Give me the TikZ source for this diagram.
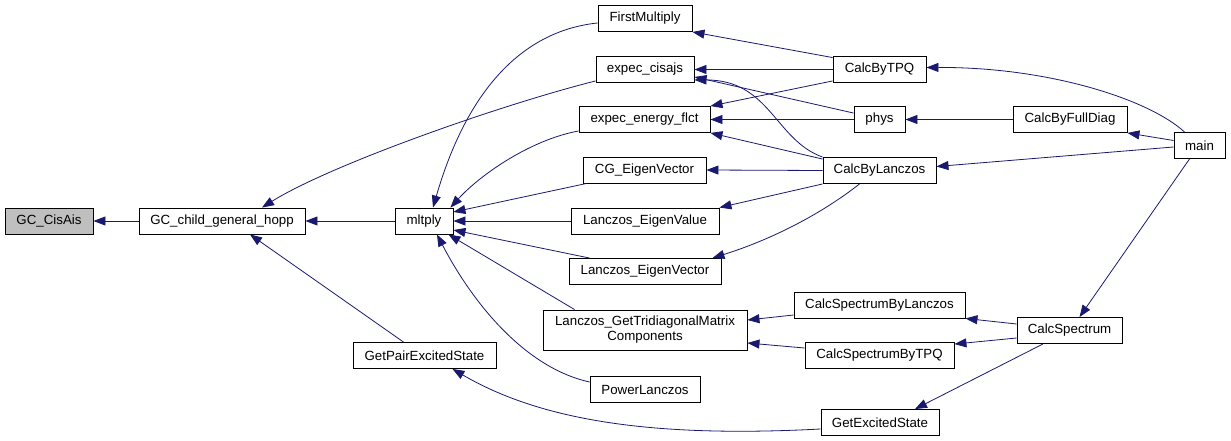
\documentclass[tikz,border=0pt]{standalone}
\usepackage{fontspec}
\setmainfont{Liberation Sans}
\usetikzlibrary{arrows.meta}
\definecolor{edgeblue}{HTML}{191970}
\definecolor{hl}{HTML}{BFBFBF}
\begin{document}
\begin{tikzpicture}[x=1pt,y=-1pt,
  box/.style={draw=black,fill=white,line width=0.9pt,inner sep=0pt,minimum height=26pt,
    font=\fontsize{13.3}{15}\selectfont,align=center},
  edge/.style={draw=edgeblue,line width=0.8pt,-{Triangle[length=12pt,width=9pt]}}]
\useasboundingbox (0,0) rectangle (1231,441);
\fill[white] (0,0) rectangle (1231,441);
% nodes
\node[box,fill=hl,minimum width=88pt] (gca) at (49,221) {GC\_CisAis};
\node[box,minimum width=166pt] (gch) at (222,221) {GC\_child\_general\_hopp};
\node[box,minimum width=58pt] (ml) at (424,221) {mltply};
\node[box,minimum width=94pt] (fm) at (645,18.5) {FirstMultiply};
\node[box,minimum width=98pt] (ec) at (645,69.5) {expec\_cisajs};
\node[box,minimum width=131pt] (eef) at (644.5,119.5) {expec\_energy\_flct};
\node[box,minimum width=123pt] (cg) at (644.5,170) {CG\_EigenVector};
\node[box,minimum width=148pt] (lev) at (645,221) {Lanczos\_EigenValue};
\node[box,minimum width=152pt] (levec) at (645,271.5) {Lanczos\_EigenVector};
\node[box,minimum width=204pt,minimum height=40pt] (lgt) at (645,330) {Lanczos\_GetTridiagonalMatrix\\Components};
\node[box,minimum width=110pt] (pl) at (645,389.5) {PowerLanczos};
\node[box,minimum width=93pt] (tpq) at (879.5,69.5) {CalcByTPQ};
\node[box,minimum width=51pt] (phys) at (879.5,119.5) {phys};
\node[box,minimum width=113pt] (cbl) at (879.5,170.5) {CalcByLanczos};
\node[box,minimum width=171pt] (csbl) at (879.5,305) {CalcSpectrumByLanczos};
\node[box,minimum width=149pt] (csbt) at (879.5,355.5) {CalcSpectrumByTPQ};
\node[box,minimum width=118pt] (ges) at (880,422.5) {GetExcitedState};
\node[box,minimum width=114pt] (cfd) at (1070,119.5) {CalcByFullDiag};
\node[box,minimum width=105pt] (cs) at (1069.5,330.5) {CalcSpectrum};
\node[box,minimum width=51pt] (main) at (1199.5,145.5) {main};
\node[box,minimum width=143pt] (gp) at (424.5,355.5) {GetPairExcitedState};
% edges
\draw[edge] (gch.west) -- (gca.east);
\draw[edge] (ml.west) -- (gch.east);
\draw[edge] ([yshift=2pt]ec.south west) .. controls (500,105) and (330,165) .. ([xshift=40pt]gch.north);
\draw[edge] ([xshift=-21pt]gp.north) -- ([xshift=28pt]gch.south);
\draw[edge] ([yshift=-4.5pt]fm.west) .. controls (530,30) and (470,80) .. ([xshift=9pt]ml.north);
\draw[edge] ([yshift=2pt]eef.south west) .. controls (530,140) and (480,175) .. ([xshift=-3pt]ml.north east);
\draw[edge] ([xshift=4pt]cg.south west) -- ([yshift=9pt]ml.east);
\draw[edge] (lev.west) -- (ml.east);
\draw[edge] ([xshift=21pt]levec.north west) -- ([yshift=-9pt]ml.east);
\draw[edge] ([xshift=32pt]lgt.north west) -- ([xshift=-5pt]ml.south east);
\draw[edge] ([yshift=7.5pt]pl.west) .. controls (522,367) and (470,298) .. ([xshift=13pt]ml.south);
\draw[edge] ([yshift=-1.5pt]tpq.north west) -- (fm.south east);
\draw[edge] (tpq.west) -- (ec.east);
\draw[edge] ([yshift=2pt]tpq.south west) -- (eef.north east);
\draw[edge] ([yshift=-7pt]phys.north west) -- ([yshift=6pt]ec.south east);
\draw[edge] (phys.west) -- (eef.east);
\draw[edge] (cbl.north west) .. controls (775,140) and (770,80) .. ([yshift=3pt]ec.south east);
\draw[edge] ([yshift=-2pt]cbl.north west) -- (eef.south east);
\draw[edge] (cbl.west) -- (cg.east);
\draw[edge] (cbl.south west) -- (lev.north east);
\draw[edge] ([xshift=-20pt]cbl.south) .. controls (820,215) and (770,240) .. ([xshift=-9pt]levec.north east);
\draw[edge] (cfd.west) -- (phys.east);
\draw[edge] ([xshift=-15pt]main.north) .. controls (1150,100) and (1050,67) .. ([yshift=2pt]tpq.east);
\draw[edge] ([yshift=5pt]main.west) -- (cfd.south east);
\draw[edge] ([yshift=-1.5pt]main.west) -- ([yshift=4pt]cbl.east);
\draw[edge] ([xshift=-10pt]main.south) -- ([xshift=10pt]cs.north);
\draw[edge] ([yshift=6.5pt]cs.west) -- (csbl.south east);
\draw[edge] ([yshift=-7.5pt]cs.west) -- ([yshift=-2pt]csbt.north east);
\draw[edge] ([xshift=-26.5pt]cs.south) -- ([xshift=35pt]ges.north);
\draw[edge] ([yshift=-10pt]csbl.west) -- ([yshift=10pt]lgt.east);
\draw[edge] ([yshift=7.5pt]csbt.west) -- ([yshift=-13pt]lgt.east);
\draw[edge] ([yshift=-6.5pt]ges.west) .. controls (650,438) and (540,420) .. ([xshift=-44pt]gp.south east);
\end{tikzpicture}
\end{document}
